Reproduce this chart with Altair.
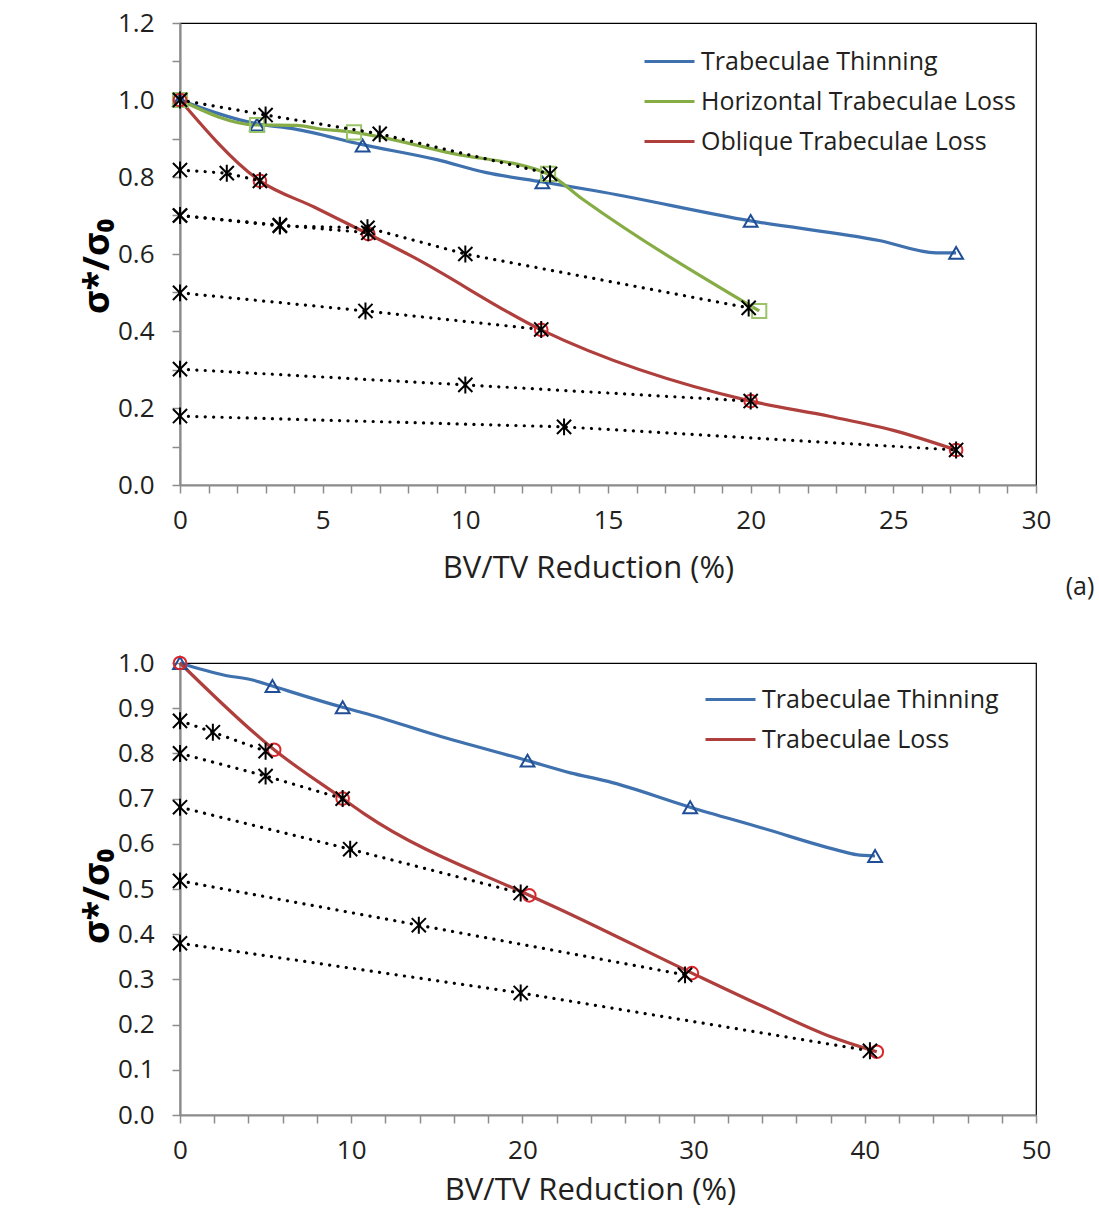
import altair as alt
import pandas as pd

FONT = "Open Sans"
TXT = "#231f20"
GREY = "#8c8c8c"

# ---------------- Panel (a) data ----------------
a_names = ["Trabeculae Thinning", "Horizontal Trabeculae Loss", "Oblique Trabeculae Loss"]
a_colors = ["#3f71ae", "#86ad45", "#af3f3c"]

a_thin_x = [0, 2.7, 4.0, 6.4, 9.0, 10.7, 12.7, 14.5, 20.0, 24.5, 26.5, 27.2]
a_thin_y = [1.0, 0.938, 0.925, 0.884, 0.845, 0.812, 0.787, 0.765, 0.686, 0.635, 0.603, 0.603]
a_thin_mx = [0, 2.7, 6.4, 12.7, 20.0, 27.2]
a_thin_my = [1.0, 0.936, 0.882, 0.786, 0.686, 0.603]

a_hor_x = [0, 2.7, 4.1, 4.8, 6.1, 9.5, 12.9, 14.1, 20.3]
a_hor_y = [1.0, 0.935, 0.934, 0.926, 0.916, 0.862, 0.808, 0.743, 0.452]
a_hor_mx = [0, 2.7, 6.1, 12.9, 20.3]
a_hor_my = [1.0, 0.935, 0.916, 0.808, 0.452]

a_obl_x = [0, 2.8, 4.7, 6.6, 8.1, 12.66, 20.0, 22.8, 25.0, 27.2]
a_obl_y = [1.0, 0.79, 0.722, 0.652, 0.595, 0.403, 0.218, 0.178, 0.142, 0.091]
a_obl_mx = [0, 2.8, 6.6, 12.66, 20.0, 27.2]
a_obl_my = [1.0, 0.79, 0.652, 0.403, 0.218, 0.091]

a_dot_x = [
    [0, 3.0, 7.0, 12.97],
    [0, 1.64, 2.8],
    [0, 3.5, 6.57, 10.0, 19.93],
    [0, 3.5, 6.6],
    [0, 6.5, 12.66],
    [0, 10.0, 20.0],
    [0, 13.46, 27.2],
]
a_dot_y = [
    [1.0, 0.961, 0.912, 0.808],
    [0.818, 0.81, 0.79],
    [0.70, 0.673, 0.668, 0.60, 0.46],
    [0.70, 0.675, 0.655],
    [0.499, 0.452, 0.404],
    [0.301, 0.26, 0.218],
    [0.179, 0.151, 0.091],
]

# ---------------- Panel (b) data ----------------
b_names = ["Trabeculae Thinning", "Trabeculae Loss"]
b_colors = ["#3f71ae", "#af3f3c"]

b_thin_x = [0, 2.6, 4.3, 5.4, 9.5, 10.8, 15.0, 20.3, 22.8, 25.0, 29.8, 34.0, 38.5, 39.5, 40.6]
b_thin_y = [1.0, 0.973, 0.962, 0.949, 0.902, 0.889, 0.84, 0.784, 0.757, 0.738, 0.681, 0.635, 0.585, 0.576, 0.573]
b_thin_mx = [0, 5.4, 9.5, 20.3, 29.8, 40.6]
b_thin_my = [1.0, 0.949, 0.902, 0.784, 0.681, 0.573]

b_loss_x = [0, 5.5, 9.5, 10.7, 20.4, 21.8, 29.9, 34.0, 37.9, 40.7]
b_loss_y = [1.0, 0.808, 0.70, 0.668, 0.486, 0.462, 0.314, 0.241, 0.175, 0.14]
b_loss_mx = [0, 5.5, 9.5, 20.4, 29.9, 40.7]
b_loss_my = [1.0, 0.808, 0.70, 0.486, 0.314, 0.14]

b_dot_x = [
    [0, 1.92, 5.0],
    [0, 5.0, 9.5],
    [0, 9.94, 19.9],
    [0, 13.95, 29.5],
    [0, 19.9, 40.3],
]
b_dot_y = [
    [0.872, 0.847, 0.805],
    [0.80, 0.75, 0.70],
    [0.681, 0.588, 0.491],
    [0.518, 0.42, 0.31],
    [0.38, 0.27, 0.142],
]

ASTERISK = "M-1,-1L1,1M-1,1L1,-1M0,-1.2L0,1.2"


def series_df(names, xs, ys):
    rows = []
    for n, x, y in zip(names, xs, ys):
        for xi, yi in zip(x, y):
            rows.append({"series": n, "x": xi, "y": yi})
    return pd.DataFrame(rows)


def dots_df(xs, ys):
    rows = []
    for i, (x, y) in enumerate(zip(xs, ys)):
        for xi, yi in zip(x, y):
            rows.append({"g": i, "x": xi, "y": yi})
    return pd.DataFrame(rows)


def panel(names, colors, line_x, line_y, mark_x, mark_y, shapes, mcolors,
          dxs, dys, xdom, ydom, xvals, xexpr, yvals, yexpr, w, h,
          leg_x, leg_y, leg_len, leg_pad, xtitle_x, xtitle_y, ytitle_y, extra=None):
    xs = alt.Scale(domain=xdom, nice=False, zero=False)
    ys = alt.Scale(domain=ydom, nice=False, zero=False)
    xax = alt.Axis(values=xvals, labelExpr=xexpr, title="BV/TV Reduction (%)",
                   titleX=xtitle_x, titleY=xtitle_y, titleBaseline="middle", labelPadding=14,
                   labelOverlap=False, labelFlush=False)
    yax = alt.Axis(values=yvals, labelExpr=yexpr, title="σ*/σ₀",
                   titleX=-83, titleY=ytitle_y, titleBaseline="middle", titleAngle=-90,
                   titleFontWeight="bold", titleFontSize=36, titleColor="black", labelPadding=18,
                   labelOverlap=False, labelFlush=False)
    X = alt.X("x:Q", scale=xs, axis=xax)
    Y = alt.Y("y:Q", scale=ys, axis=yax)
    ldf = series_df(names, line_x, line_y)
    lines = alt.Chart(ldf).mark_line(strokeWidth=3.2, interpolate="monotone").encode(
        x=X, y=Y,
        color=alt.Color("series:N", scale=alt.Scale(domain=names, range=colors),
                        legend=alt.Legend(title=None, orient="none", legendX=leg_x, legendY=leg_y,
                                          symbolType="stroke", symbolSize=leg_len * leg_len,
                                          symbolStrokeWidth=3, labelFontSize=25, labelFont=FONT,
                                          labelColor=TXT, labelOffset=5, rowPadding=leg_pad,
                                          labelLimit=500)),
        detail="series:N",
    )
    layers = [lines]
    for n, mx, my, shp, mc in zip(names, mark_x, mark_y, shapes, mcolors):
        mdf = pd.DataFrame({"x": mx, "y": my})
        size = 160 if shp == "circle" else (200 if shp == "square" else 190)
        layers.append(alt.Chart(mdf).mark_point(shape=shp, filled=False, stroke=mc,
                                                strokeWidth=2, size=size, opacity=1).encode(
            x=X, y=Y))
    ddf = dots_df(dxs, dys)
    layers.append(alt.Chart(ddf).mark_line(color="black", strokeWidth=3.2, strokeDash=[0.1, 8.3],
                                           strokeCap="round").encode(
        x=X, y=Y, detail="g:N"))
    layers.append(alt.Chart(ddf).mark_point(shape=ASTERISK, filled=False, stroke="black",
                                            strokeWidth=2, size=200, opacity=1).encode(
        x=X, y=Y))
    if extra is not None:
        layers.append(extra)
    return alt.layer(*layers).properties(width=w, height=h)


a_label = ["(a)"]
a_text = alt.Chart(pd.DataFrame({"t": a_label})).mark_text(
    font=FONT, fontSize=25, color=TXT, align="center", baseline="middle").encode(
    text="t:N", x=alt.value(900), y=alt.value(564))

top = panel(a_names, a_colors, [a_thin_x, a_hor_x, a_obl_x], [a_thin_y, a_hor_y, a_obl_y],
            [a_thin_mx, a_hor_mx, a_obl_mx], [a_thin_my, a_hor_my, a_obl_my],
            ["triangle-up", "square", "circle"], ["#1f4e96", "#9bc46a", "#d9262b"],
            a_dot_x, a_dot_y, [0, 30], [0, 1.2],
            list(range(0, 31)), "datum.value % 5 == 0 ? datum.label : ''",
            [i / 10 for i in range(0, 13)],
            "round(datum.value * 10) % 2 == 0 ? format(datum.value, '.1f') : ''",
            856, 462, 463, 12, 50, -13, 408, 83, 243, extra=a_text)

bottom = panel(b_names, b_colors, [b_thin_x, b_loss_x], [b_thin_y, b_loss_y],
               [b_thin_mx, b_loss_mx], [b_thin_my, b_loss_my],
               ["triangle-up", "circle"], ["#1f4e96", "#d9262b"],
               b_dot_x, b_dot_y, [0, 50], [0, 1.0],
               list(range(0, 51, 2)), "datum.value % 10 == 0 ? datum.label : ''",
               [i / 10 for i in range(0, 11)], "format(datum.value, '.1f')",
               856, 452, 524, 10, 50, -13, 410, 75, 233)

chart = alt.vconcat(top, bottom, spacing=48).resolve_scale(
    color="independent", x="independent", y="independent").resolve_legend(
    color="independent").properties(
    padding={"left": 78, "top": 9, "right": 0, "bottom": 0}, background="white"
).configure_view(stroke="black", strokeWidth=1.2).configure_axis(
    domainColor=GREY, domainWidth=2.2, tickColor=GREY, tickWidth=1.5, tickSize=8,
    labelFont=FONT, labelFontSize=26, labelColor=TXT, grid=False,
    titleFont=FONT, titleFontSize=31, titleColor=TXT, titleFontWeight="normal"
)

chart.save("out.html", embed_options={"renderer": "svg", "actions": False})
